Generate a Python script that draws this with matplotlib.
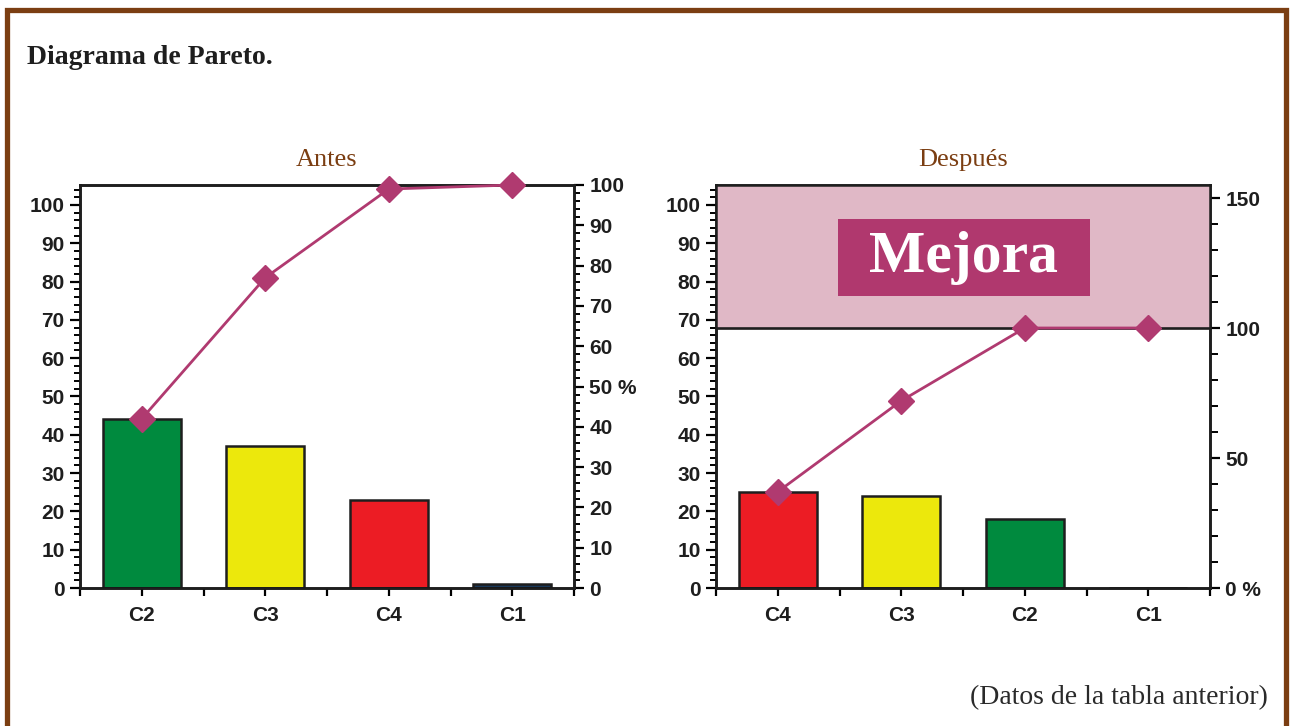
import matplotlib.pyplot as plt
import numpy as np
from matplotlib.patches import Rectangle
from matplotlib.ticker import MultipleLocator, FixedLocator

# data
antes_cats = ["C2", "C3", "C4", "C1"]
antes_vals = [44, 37, 23, 1]
antes_cum = [42, 77, 99, 100]
antes_colors = ["#008a3e", "#ece80c", "#ec1c24", "#1a3a5c"]

despues_cats = ["C4", "C3", "C2", "C1"]
despues_vals = [25, 24, 18, 0]
despues_cum = [37, 72, 100, 100]
despues_colors = ["#ec1c24", "#ece80c", "#008a3e", "#1a3a5c"]

left_ticks = [0, 10, 20, 30, 40, 50, 60, 70, 80, 90, 100]
antes_right_ticks = [0, 10, 20, 30, 40, 50, 60, 70, 80, 90, 100]
antes_right_labels = ["0", "10", "20", "30", "40", "50 %", "60", "70", "80", "90", "100"]
despues_right_ticks = [0, 50, 100, 150]
despues_right_labels = ["0 %", "50", "100", "150"]

brown = "#7b3e12"
pink = "#b03a70"
tickfont = ["Liberation Sans Narrow", "Liberation Sans", "DejaVu Sans"]
serif = ["Liberation Serif", "DejaVu Serif"]

fig = plt.figure(figsize=(12.93, 7.26), dpi=100)
W, H = 1293, 726

# brown frame
fig.patches.append(Rectangle((7 / W, -0.05), 1279 / W, 1.05 - 10 / H, transform=fig.transFigure,
                             fill=False, edgecolor=brown, linewidth=3.8))

fig.text(27 / W, 1 - 57 / H, "Diagrama de Pareto.", family=serif, weight="bold",
         fontsize=20, color="#1e1e1e", va="center", ha="left")
fig.text(1268 / W, 1 - 698 / H, "(Datos de la tabla anterior)", family=serif,
         fontsize=20, color="#2a2a2a", va="center", ha="right")


def style_labels(labels):
    for lab in labels:
        lab.set_family(tickfont)
        lab.set_weight("bold")
        lab.set_fontsize(15)
        lab.set_color("#1e1e1e")


def style_axes(ax, ax2, cats):
    ax.set_xlim(-0.5, 3.5)
    ax.set_ylim(0, 105.2)
    ax.set_xticks(range(4))
    ax.set_xticklabels(cats)
    ax.xaxis.set_minor_locator(FixedLocator([-0.5, 0.5, 1.5, 2.5, 3.5]))
    ax.set_yticks(left_ticks)
    ax.yaxis.set_minor_locator(MultipleLocator(2))
    ax.tick_params(axis="x", which="both", length=6, width=1.6, direction="out", pad=7)
    ax.tick_params(axis="y", which="major", length=7, width=1.6, pad=4)
    ax.tick_params(axis="y", which="minor", length=4.5, width=1.4)
    for sp in ["left", "bottom", "right", "top"]:
        ax.spines[sp].set_linewidth(1.8)
        ax2.spines[sp].set_linewidth(1.8)
        ax2.spines[sp].set_color("#1e1e1e")
    style_labels(ax.get_xticklabels() + ax.get_yticklabels() + ax2.get_yticklabels())


# ---- Antes ----
ax = fig.add_axes([80 / W, 1 - 588 / H, 494 / W, 403 / H])
ax2 = ax.twinx()
x = np.arange(len(antes_cats))
ax.bar(x, antes_vals, width=0.63, color=antes_colors, edgecolor="#1e1e1e", linewidth=1.8, zorder=2)
ax2.plot(x, antes_cum, color=pink, lw=2, marker="D", ms=13, mec=pink, clip_on=False, zorder=5)
ax2.set_ylim(0, 100)
ax2.set_yticks(antes_right_ticks)
ax2.set_yticklabels(antes_right_labels)
ax2.yaxis.set_minor_locator(MultipleLocator(2))
ax2.tick_params(axis="y", which="major", length=7, width=1.6, pad=4)
ax2.tick_params(axis="y", which="minor", length=4.5, width=1.4)
style_axes(ax, ax2, antes_cats)
ax.set_title("Antes", family=serif, fontsize=19, color=brown, pad=14)

# ---- Después ----
bx = fig.add_axes([716 / W, 1 - 588 / H, 494 / W, 403 / H])
bx2 = bx.twinx()
bx.bar(x, despues_vals, width=0.63, color=despues_colors, edgecolor="#1e1e1e", linewidth=1.8, zorder=2)
bx2.set_ylim(0, 155)
bx2.axhspan(100, 155, color="#e0b8c6", zorder=0)
bx2.axhline(100, color="#1e1e1e", lw=1.9, zorder=1)
bx2.plot(x, despues_cum, color=pink, lw=2, marker="D", ms=13, mec=pink, clip_on=False, zorder=5)
bx2.set_yticks(despues_right_ticks)
bx2.set_yticklabels(despues_right_labels)
bx2.yaxis.set_minor_locator(MultipleLocator(10))
bx2.tick_params(axis="y", which="major", length=7, width=1.6, pad=4)
bx2.tick_params(axis="y", which="minor", length=6, width=1.4)
style_axes(bx, bx2, despues_cats)
bx2.add_patch(Rectangle((0.247, 0.725), 0.51, 0.19, transform=bx2.transAxes,
                        facecolor="#b0386e", edgecolor="none", zorder=3))
bx2.text(0.502, 0.818, "Mejora", transform=bx2.transAxes, family=serif, weight="bold",
         fontsize=43, color="white", ha="center", va="center", zorder=4)
bx.set_title("Después", family=serif, fontsize=19, color=brown, pad=14)

fig.savefig("out.png", dpi=100)
